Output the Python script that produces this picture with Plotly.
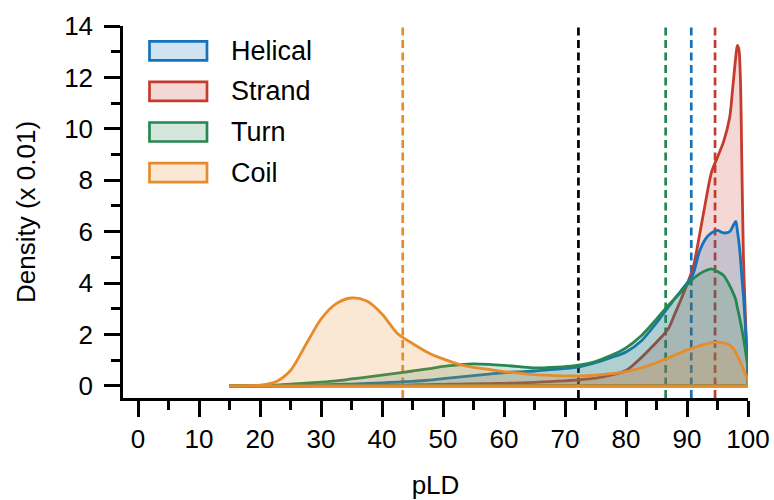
import plotly.graph_objects as go

# ---------------- data ----------------
pld = [15, 17.5, 20, 22.5, 25, 27.5, 30, 32.5, 35, 37.5, 40, 42.5, 45, 47.5, 50,
       52.5, 55, 57.5, 60, 62.5, 65, 67.5, 70, 72.5, 75, 77.5, 80, 82.5, 85,
       86, 87, 88, 89, 90, 91, 92, 93, 94, 95, 96, 97, 97.5, 98, 98.25, 98.5,
       98.75, 99, 99.25, 99.5, 99.75, 100]

helical = [0, 0, 0.005, 0.01, 0.02, 0.03, 0.04, 0.06, 0.07, 0.10, 0.12, 0.15, 0.18, 0.22, 0.28,
           0.34, 0.40, 0.46, 0.52, 0.55, 0.58, 0.63, 0.68, 0.75, 0.90, 1.10, 1.32, 1.75, 2.45,
           2.77, 3.08, 3.40, 3.70, 4.00, 4.35, 5.20, 5.70, 5.95, 6.05, 5.95, 6.00, 6.20, 6.40, 6.05, 5.60,
           5.00, 4.20, 3.50, 2.60, 1.50, 0.60]

strand = [0, 0, 0, 0, 0, 0.005, 0.01, 0.01, 0.015, 0.02, 0.025, 0.03, 0.04, 0.05, 0.06,
          0.07, 0.08, 0.09, 0.10, 0.12, 0.14, 0.17, 0.20, 0.24, 0.30, 0.42, 0.60, 1.10, 1.70,
          1.95, 2.25, 2.80, 3.35, 3.95, 4.60, 5.80, 7.10, 8.30, 8.90, 9.50, 10.45, 11.60, 12.80, 13.25, 13.10,
          12.00, 8.50, 5.00, 3.20, 1.60, 0.50]

turn = [0, 0.005, 0.01, 0.03, 0.07, 0.11, 0.15, 0.20, 0.27, 0.34, 0.42, 0.50, 0.58, 0.66, 0.76,
        0.82, 0.86, 0.84, 0.80, 0.75, 0.70, 0.72, 0.75, 0.82, 0.95, 1.18, 1.48, 1.95, 2.60,
        2.88, 3.15, 3.40, 3.65, 3.92, 4.17, 4.35, 4.48, 4.55, 4.45, 4.30, 3.90, 3.65, 3.35, 3.05, 2.80,
        2.50, 2.20, 1.85, 1.50, 1.10, 0.70]

coil = [0, 0.005, 0.03, 0.15, 0.60, 1.60, 2.60, 3.20, 3.42, 3.30, 2.80, 2.05, 1.65, 1.30, 1.05,
        0.85, 0.72, 0.64, 0.56, 0.50, 0.44, 0.41, 0.39, 0.39, 0.42, 0.48, 0.56, 0.70, 0.90,
        1.00, 1.10, 1.20, 1.30, 1.40, 1.48, 1.56, 1.63, 1.68, 1.70, 1.67, 1.58, 1.48, 1.30, 1.18, 1.05,
        0.92, 0.80, 0.65, 0.50, 0.38, 0.30]

series_names = ["Helical", "Strand", "Turn", "Coil"]
series_values = {"Helical": helical, "Strand": strand, "Turn": turn, "Coil": coil}
series_colors = {"Helical": (22, 115, 185), "Strand": (195, 60, 45),
                 "Turn": (38, 135, 80), "Coil": (230, 140, 45)}
draw_order = ["Strand", "Helical", "Turn", "Coil"]

mean_lines = [("Coil", 43.4), ("All", 72.2), ("Turn", 86.5), ("Helical", 90.7), ("Strand", 94.6)]

x_ticks = list(range(0, 101, 10))
y_ticks = list(range(0, 15, 2))

x_title = "pLD"
y_title = "Density (x 0.01)"

# ---------------- figure ----------------
def rgb(c, a=None):
    if a is None:
        return "rgb(%d,%d,%d)" % c
    return "rgba(%d,%d,%d,%.2f)" % (c + (a,))

fig = go.Figure()
Y0, Y1 = -0.47, 14.0

# dashed vertical reference lines (below fills)
for name, xv in mean_lines:
    col = "black" if name == "All" else rgb(series_colors[name])
    fig.add_trace(go.Scatter(x=[xv, xv], y=[Y0, Y1], mode="lines",
                             line=dict(color=col, width=2.7, dash="8px,4.5px"),
                             hoverinfo="skip", showlegend=False))

for name in draw_order:
    vals = series_values[name]
    c = series_colors[name]
    fig.add_trace(go.Scatter(x=pld, y=vals, mode="lines", fill="tozeroy",
                             fillcolor=rgb(c, 0.2),
                             line=dict(color=rgb(c), width=2.8, shape="spline", smoothing=0.8),
                             name=name, showlegend=False))
    # outline of the filled region: baseline and closing edge at the right end
    fig.add_trace(go.Scatter(x=[pld[0], pld[-1], pld[-1]], y=[0, 0, vals[-1]], mode="lines",
                             line=dict(color=rgb(c), width=2.8),
                             hoverinfo="skip", showlegend=False))

# manual legend (patches + labels) in paper coordinates
L, R, T, B = 123, 748, 26, 398
W, H = R - L, B - T
def px(xp): return (xp - L) / W
def py(yp): return (B - yp) / H

shapes = []
annotations = []
for i, name in enumerate(series_names):
    yc = 50.8 + 40.6 * i
    c = series_colors[name]
    shapes.append(dict(type="rect", xref="paper", yref="paper",
                       x0=px(149.5), x1=px(207), y0=py(yc - 9.5), y1=py(yc + 9.5),
                       fillcolor=rgb(c, 0.2), line=dict(color=rgb(c), width=2.7)))
    annotations.append(dict(xref="paper", yref="paper", x=px(229), y=py(yc),
                            text=name, showarrow=False, xanchor="left", yanchor="middle",
                            font=dict(size=27, color="black")))

axis_common = dict(showline=True, linecolor="black", linewidth=2.5, mirror=False,
                   ticks="outside", ticklen=16, tickwidth=2.5, tickcolor="black",
                   showgrid=False, zeroline=False, automargin=False,
                   tickfont=dict(size=26, color="black"))

fig.update_layout(
    width=774, height=500,
    margin=dict(l=L, r=774 - R, t=T, b=500 - B),
    plot_bgcolor="white", paper_bgcolor="white",
    font=dict(family="Liberation Sans, Arial, sans-serif", size=26, color="black"),
    showlegend=False,
    shapes=shapes, annotations=annotations,
    xaxis=dict(range=[-2.46, 100], tickvals=x_ticks, ticktext=[str(t) for t in x_ticks],
               minor=dict(dtick=5, tick0=0, ticks="outside", ticklen=9, tickwidth=2.5, tickcolor="black"),
               title=dict(text=x_title, font=dict(size=26), standoff=30),
               **axis_common),
    yaxis=dict(range=[Y0, Y1], tickvals=y_ticks, ticktext=[str(t) for t in y_ticks],
               minor=dict(dtick=1, tick0=0, ticks="outside", ticklen=9, tickwidth=2.5, tickcolor="black"),
               title=dict(text=y_title, font=dict(size=26), standoff=22),
               ticklabelstandoff=6,
               **axis_common),
)

fig.write_html("out.html")
